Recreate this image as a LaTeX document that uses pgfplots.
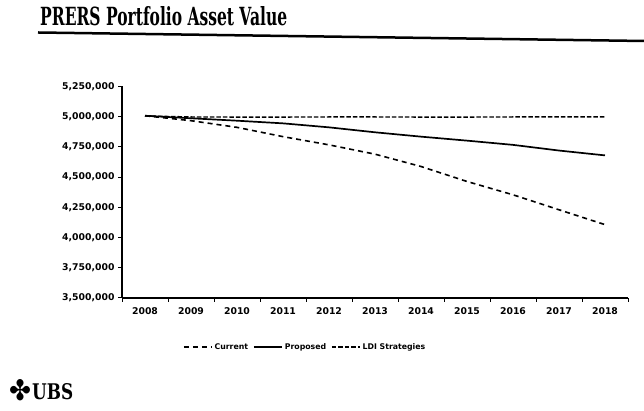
\documentclass[border=0pt]{standalone}
\usepackage{pgfplots}
\pgfplotsset{compat=1.18}
\usepackage{fontspec}
\usepackage{graphicx}
\setmainfont{DejaVu Sans}
\newfontfamily\tickfont{DejaVu Sans}
\newfontfamily\titlefont{DejaVu Serif}
\begin{document}
\begin{tikzpicture}[x=1pt,y=1pt]
\useasboundingbox (0,0) rectangle (644,411);
\node[anchor=base west, inner sep=0] at (40,385.5) {\resizebox{247pt}{19pt}{\titlefont\bfseries PRERS Portfolio Asset Value}};
\draw[line width=2.5pt] (38,378.5) -- (644,370);
\node[anchor=base west, inner sep=0] at (9,10) {\resizebox{22pt}{21pt}{\tickfont\bfseries ✤}};
\node[anchor=base west, inner sep=0] at (32,11) {\resizebox{41pt}{16pt}{\titlefont\bfseries UBS}};
\begin{axis}[
  at={(122pt,113pt)}, anchor=south west,
  scale only axis, width=506pt, height=211.5pt,
  xmin=-0.5, xmax=10.5, ymin=3500000, ymax=5250000,
  axis lines=left,
  axis line style={line width=1.8pt, -},
  tick align=outside,
  xtick={0,...,10},
  xticklabels={2008,2009,2010,2011,2012,2013,2014,2015,2016,2017,2018},
  major x tick style={draw=none},
  minor xtick={-0.5,0.5,...,10.5},
  minor x tick style={black, line width=1pt},
  minor tick length=4pt,
  major tick length=4pt,
  ytick={3500000,3750000,4000000,4250000,4500000,4750000,5000000,5250000},
  yticklabels={{3,500,000},{3,750,000},{4,000,000},{4,250,000},{4,500,000},{4,750,000},{5,000,000},{5,250,000}},
  y tick style={black, line width=1pt},
  scaled y ticks=false,
  tick label style={font=\tickfont\bfseries\fontsize{9.3}{11}\selectfont},
  xticklabel style={yshift=-2pt},
  legend columns=3,
  legend style={draw=none, fill=none, at={(0.362,-0.232)}, anchor=center,
    font=\tickfont\bfseries\fontsize{7.8}{9}\selectfont,
    inner sep=0pt,
    /tikz/every even column/.append style={column sep=3pt}},
  legend image code/.code={\draw[#1] (0pt,0pt) -- (28pt,0pt);},
  clip=false,
]
\addplot[black, line width=1.6pt, dash pattern=on 5pt off 4pt] coordinates {
 (0,5008000) (1,4967000) (2,4912000) (3,4835000) (4,4767000) (5,4690000)
 (6,4588000) (7,4464000) (8,4354000) (9,4230000) (10,4107000)};
\addlegendentry{Current}
\addplot[black, line width=1.7pt] coordinates {
 (0,5008000) (1,4987000) (2,4967000) (3,4945000) (4,4912000) (5,4871000)
 (6,4835000) (7,4802000) (8,4767000) (9,4720000) (10,4680000)};
\addlegendentry{Proposed}
\addplot[black, line width=1.4pt, dash pattern=on 4.5pt off 2pt] coordinates {
 (0,5006000) (1,4998000) (2,4997000) (3,4997000) (4,4998000) (5,4998000)
 (6,4997000) (7,4997000) (8,4998000) (9,4998000) (10,4998000)};
\addlegendentry{LDI Strategies}
\end{axis}
\end{tikzpicture}
\end{document}
